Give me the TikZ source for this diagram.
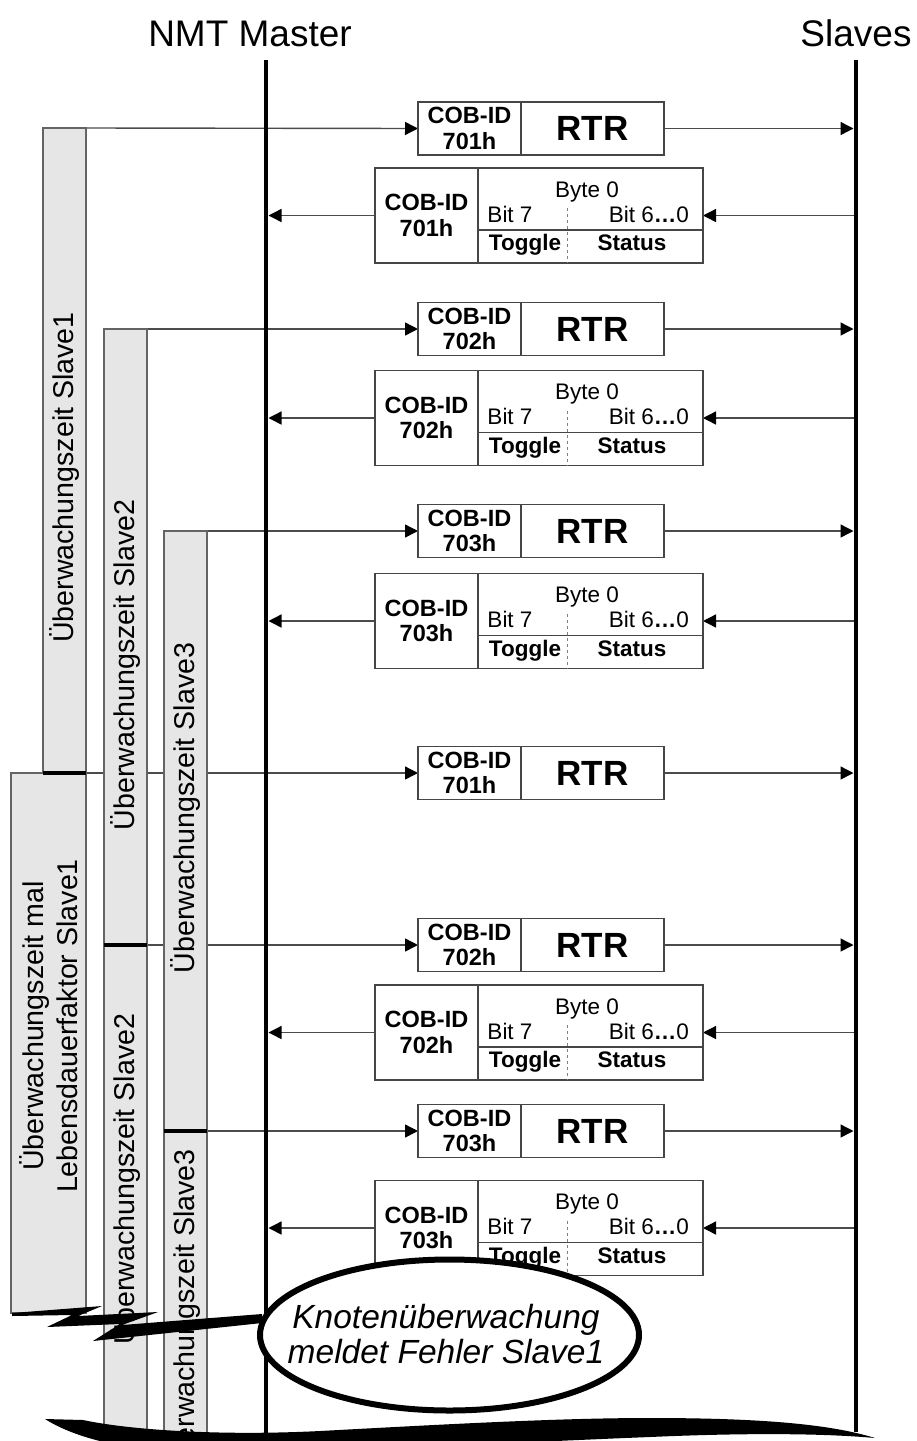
\documentclass[tikz,border=0pt]{standalone}
\usepackage{fontspec}
\setmainfont{Liberation Sans}
\usetikzlibrary{arrows.meta}
\pgfdeclarelayer{back}
\pgfsetlayers{back,main}
\definecolor{connc}{RGB}{75,75,75}
\definecolor{boxc}{RGB}{70,70,70}
\definecolor{barfill}{RGB}{230,230,230}
\definecolor{barline}{RGB}{100,100,100}
\tikzset{
  conn/.style={draw=connc, line width=1.4pt, -{Triangle[length=13pt,width=13pt,color=black]}},
  lifeline/.style={draw=black, line width=4.5pt},
  sepline/.style={draw=black, line width=3.5pt},
  barbox/.style={draw=barline, fill=barfill, line width=1.5pt, inner sep=0pt, outer sep=0pt, rectangle},
  idbox/.style={draw=boxc, fill=white, line width=1.2pt, inner sep=0pt, outer sep=0pt, rectangle,
    minimum width=103, align=center, font=\bfseries\fontsize{23.5}{25.5}\selectfont},
  rtrbox/.style={draw=boxc, fill=white, line width=1.2pt, inner sep=0pt, outer sep=0pt, rectangle,
    minimum width=143, minimum height=53, font=\bfseries\fontsize{35}{40}\selectfont},
  databox/.style={draw=boxc, fill=white, line width=1.2pt, inner sep=0pt, outer sep=0pt, rectangle,
    minimum width=225, minimum height=95},
  smalltxt/.style={inner sep=0pt, font=\fontsize{22.5}{26}\selectfont},
  smallbold/.style={inner sep=0pt, font=\bfseries\fontsize{22.5}{26}\selectfont},
  titletxt/.style={inner sep=0pt, anchor=base, font=\fontsize{37}{44}\selectfont},
  bartxt/.style={inner sep=0pt, rotate=90, align=center, font=\fontsize{28.6}{34}\selectfont},
  innerline/.style={draw=boxc, line width=1.2pt},
  dashline/.style={draw=gray, line width=1pt, dash pattern=on 3pt off 3pt},
  errline/.style={draw=black, fill=white, line width=6pt},
  errtxt/.style={inner sep=0pt, align=center, font=\itshape\fontsize{33.5}{35}\selectfont}
}
\newcommand\rtrmsg[3]{%
  \node[idbox, minimum height=53, anchor=west] (#1id) at (418,#2) {COB-ID\\#3};
  \node[rtrbox, anchor=west] (#1rtr) at (521,#2) {RTR};
  \coordinate (#1s) at (853.5,#2);
}
\newcommand\respmsg[3]{%
  \node[idbox, minimum height=95, anchor=west] (#1id) at (375,#2) {COB-ID\\#3};
  \node[databox, anchor=west] (#1data) at (478,#2) {};
  \node[smalltxt, anchor=base] (#1byte) at (587,{#2-18.5}) {Byte 0};
  \node[smalltxt, anchor=base] (#1bs) at (510,{#2+6.5}) {Bit 7};
  \node[smalltxt, anchor=base east] (#1bl) at (689,{#2+6.5}) {Bit 6{\bfseries …}0};
  \draw[innerline] (478,{#2+14.5}) -- (703,{#2+14.5});
  \draw[dashline] (567,{#2-7.5}) -- (567,{#2+47.5});
  \node[smallbold, anchor=base] (#1tog) at (525,{#2+35}) {Toggle};
  \node[smallbold, anchor=base] (#1stat) at (632,{#2+35}) {Status};
  \coordinate (#1s) at (853.5,#2);
  \coordinate (#1m) at (268.5,#2);
}
\begin{document}
\begin{tikzpicture}[x=1pt,y=-1pt]
\useasboundingbox (0,0) rectangle (917,1441);
% titles
\node[titletxt] (tmaster) at (250,46) {NMT Master};
\node[titletxt] (tslaves) at (856,46) {Slaves};
% bars
\node[barbox, minimum width=43, minimum height=645, anchor=north west] (bar1) at (43,128) {};
\node[barbox, minimum width=43, minimum height=616, anchor=north west] (bar2) at (104,329) {};
\node[barbox, minimum width=43, minimum height=600, anchor=north west] (bar3) at (164,531) {};
\node[barbox, minimum width=75, minimum height=540, anchor=north west] (bigbar) at (11,773) {};
\node[barbox, minimum width=43, minimum height=500, anchor=north west] (bar2b) at (104,945) {};
\node[barbox, minimum width=43, minimum height=320, anchor=north west] (bar3b) at (164,1131) {};
\draw[sepline] (bar1.south west) -- (bar1.south east);
\draw[sepline] (bar2.south west) -- (bar2.south east);
\draw[sepline] (bar3.south west) -- (bar3.south east);
% bar texts
\node[bartxt] (t1) at (64.5,477.5) {Überwachungszeit Slave1};
\node[bartxt] (t2) at (125.5,665) {Überwachungszeit Slave2};
\node[bartxt] (t3) at (185.5,808) {Überwachungszeit Slave3};
\node[bartxt] (t4) at (49,1026) {Überwachungszeit mal\\Lebensdauerfaktor Slave1};
\node[bartxt] (t5) at (125.5,1179) {Überwachungszeit Slave2};
\node[bartxt] (t6) at (185.5,1314.5) {Überwachungszeit Slave3};
% lifelines
\coordinate (mTop) at (266,60);
\coordinate (mBot) at (266,1445);
\coordinate (sTop) at (856,60);
\coordinate (sBot) at (856,1432);
\draw[lifeline] (mTop) -- (mBot);
\draw[lifeline] (sTop) -- (sBot);
% messages
\rtrmsg{q1}{128.5}{701h}
\respmsg{a1}{215.5}{701h}
\rtrmsg{q2}{329}{702h}
\respmsg{a2}{418}{702h}
\rtrmsg{q3}{531}{703h}
\respmsg{a3}{621}{703h}
\rtrmsg{q4}{773}{701h}
\rtrmsg{q5}{945}{702h}
\respmsg{a4}{1032.5}{702h}
\rtrmsg{q6}{1131}{703h}
\respmsg{a5}{1228}{703h}
% connectors
\begin{pgfonlayer}{back}
\draw[conn] (bar1.north east) -- (q1id.west);
\draw[conn] (bar2.north east) -- (q2id.west);
\draw[conn] (bar3.north east) -- (q3id.west);
\draw[conn] (bigbar.north east) -- (q4id.west);
\draw[conn] (bar2b.north east) -- (q5id.west);
\draw[conn] (bar3b.north east) -- (q6id.west);
\foreach \q in {q1,q2,q3,q4,q5,q6} {\draw[conn] (\q rtr.east) -- (\q s);}
\foreach \a in {a1,a2,a3,a4,a5} {
  \draw[conn] (\a s) -- (\a data.east);
  \draw[conn] (\a id.west) -- (\a m);
}
\end{pgfonlayer}
% lightning
\fill[black] (12,1313) -- (102,1306) -- (78,1316) -- (158,1312) -- (122,1325) -- (262,1314)
  -- (262,1323) -- (93,1341) -- (120,1324) -- (47,1327) -- (72,1315) -- (12,1316) -- cycle;
% bottom wave
\fill[black] (45,1419) -- (83,1420) .. controls (130,1430) and (220,1436) .. (320,1431)
  .. controls (450,1424) and (560,1418) .. (650,1418)
  .. controls (760,1418) and (830,1424) .. (875,1438)
  .. controls (820,1433) and (740,1433) .. (650,1437)
  .. controls (520,1442) and (350,1452) .. (200,1452)
  .. controls (120,1452) and (70,1435) .. (45,1419) -- cycle;
% error ellipse
\coordinate (errc) at (449.5,1335);
\draw[errline] (errc) ellipse [x radius=189.5, y radius=75.5];
\node[errtxt] (err) at (446,1334) {Knotenüberwachung\\meldet Fehler Slave1};
\end{tikzpicture}
\end{document}
